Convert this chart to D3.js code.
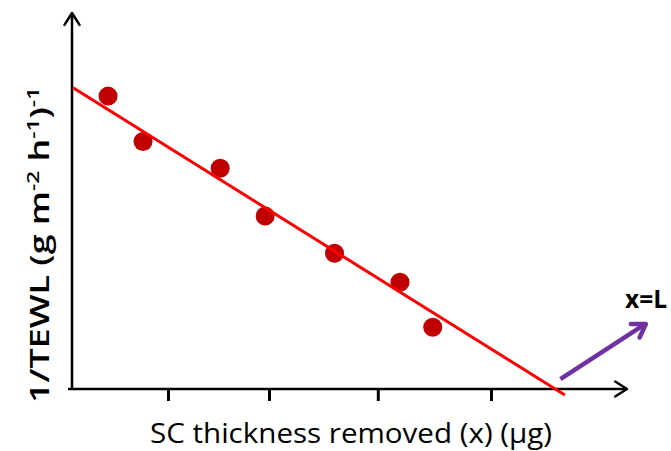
<!DOCTYPE html>
<html>
<head>
<meta charset="utf-8">
<script src="https://cdn.jsdelivr.net/npm/d3@7"></script>
<style>
  body { margin: 0; background: #fff; }
  text { font-family: "Open Sans", "Liberation Sans", sans-serif; }
</style>
</head>
<body>
<svg width="671" height="451"></svg>
<script>
// data (arbitrary units)
var pointX = [0.65, 1.28, 2.67, 3.48, 4.73, 5.91, 6.50];
var pointY = [7.79, 6.58, 5.87, 4.60, 3.61, 2.84, 1.64];
var fitX = [0.02, 8.88];
var fitY = [8.01, -0.16];
var tickValues = [1.73, 3.55, 5.51, 7.55];
var arrowX = [8.80, 10.34];
var arrowY = [0.26, 1.73];

var svg = d3.select("svg");

var x = d3.scaleLinear().domain([0, 10]).range([72, 627]);
var y = d3.scaleLinear().domain([0, 10]).range([389, 13]);

function chevron(tipX, tipY, angle, size, color, width) {
  // open arrow head pointing along angle
  var a1 = angle + Math.PI * 0.82, a2 = angle - Math.PI * 0.82;
  svg.append("path")
    .attr("d", "M" + (tipX + size * Math.cos(a1)) + "," + (tipY + size * Math.sin(a1)) +
      "L" + tipX + "," + tipY +
      "L" + (tipX + size * Math.cos(a2)) + "," + (tipY + size * Math.sin(a2)))
    .attr("fill", "none")
    .attr("stroke", color)
    .attr("stroke-width", width)
    .attr("stroke-linecap", "round")
    .attr("stroke-linejoin", "round");
}

// x axis
var xAxis = d3.axisBottom(x).tickValues(tickValues).tickSize(12).tickFormat("");
var gx = svg.append("g").attr("transform", "translate(0," + y(0) + ")").call(xAxis);
gx.select(".domain").remove();
gx.selectAll(".tick line").attr("stroke", "#000").attr("stroke-width", 3);

svg.append("line")
  .attr("x1", x(0) - 4).attr("x2", x(10) - 1)
  .attr("y1", y(0)).attr("y2", y(0))
  .attr("stroke", "#000").attr("stroke-width", 2.5);
chevron(x(10), y(0), 0, 14, "#000", 2.5);

// y axis
svg.append("line")
  .attr("x1", x(0)).attr("x2", x(0))
  .attr("y1", y(0)).attr("y2", y(10) + 1)
  .attr("stroke", "#000").attr("stroke-width", 2.5);
chevron(x(0), y(10), -Math.PI / 2, 14, "#000", 2.5);

// points
svg.append("g").selectAll("circle")
  .data(pointX.map(function(d, i) { return [d, pointY[i]]; }))
  .enter().append("circle")
    .attr("cx", function(d) { return x(d[0]); })
    .attr("cy", function(d) { return y(d[1]); })
    .attr("r", 9.5)
    .attr("fill", "#c00000");

// fitted line
svg.append("line")
  .attr("x1", x(fitX[0])).attr("y1", y(fitY[0]))
  .attr("x2", x(fitX[1])).attr("y2", y(fitY[1]))
  .attr("stroke", "#ff0000").attr("stroke-width", 3);

// purple arrow
var ax1 = x(arrowX[0]), ay1 = y(arrowY[0]), ax2 = x(arrowX[1]), ay2 = y(arrowY[1]);
svg.append("line")
  .attr("x1", ax1).attr("y1", ay1).attr("x2", ax2 - 2).attr("y2", ay2 + 1)
  .attr("stroke", "#7030a0").attr("stroke-width", 4.5);
chevron(ax2, ay2, Math.atan2(ay2 - ay1, ax2 - ax1), 15, "#7030a0", 4.5);

svg.append("text")
  .attr("x", 646).attr("y", 308)
  .attr("text-anchor", "middle")
  .attr("font-size", 25).attr("font-weight", "bold")
  .attr("textLength", 42).attr("lengthAdjust", "spacingAndGlyphs")
  .text("x=L");

// axis titles
svg.append("text")
  .attr("x", 351).attr("y", 443)
  .attr("text-anchor", "middle")
  .attr("font-size", 27)
  .attr("textLength", 402).attr("lengthAdjust", "spacingAndGlyphs")
  .text("SC thickness removed (x) (\u03bcg)");

var yl = svg.append("text")
  .attr("transform", "translate(49,403) rotate(-90)")
  .attr("font-size", 27).attr("font-weight", 600)
  .attr("textLength", 316).attr("lengthAdjust", "spacingAndGlyphs");
yl.append("tspan").text("1/TEWL (g m");
yl.append("tspan").attr("dy", -10).attr("font-size", 17).text("-2");
yl.append("tspan").attr("dy", 10).text(" h");
yl.append("tspan").attr("dy", -10).attr("font-size", 17).text("-1");
yl.append("tspan").attr("dy", 10).text(")");
yl.append("tspan").attr("dy", -10).attr("font-size", 17).text("-1");
</script>
</body>
</html>
